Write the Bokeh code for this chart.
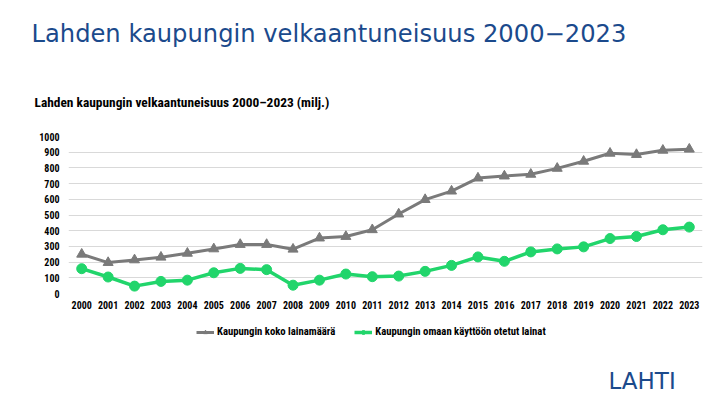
from bokeh.plotting import figure
from bokeh.layouts import column
from bokeh.models import Title, Legend, LegendItem, FixedTicker, Range1d, Label
from bokeh.embed import file_html
from bokeh.resources import INLINE

years = list(range(2000, 2024))
total_loans = [250, 197, 214, 231, 256, 284, 312, 312, 282, 353, 363, 406,
               506, 598, 652, 735, 748, 759, 797, 842, 893, 885, 912, 919]
own_loans = [158, 105, 47, 77, 85, 132, 160, 152, 53, 85, 124, 107,
             111, 141, 179, 233, 205, 265, 284, 297, 350, 363, 406, 423]
y_ticks = [0, 100, 200, 300, 400, 500, 600, 700, 800, 900, 1000]

header = "Lahden kaupungin velkaantuneisuus 2000\u22122023"
chart_title = "Lahden kaupungin velkaantuneisuus 2000\u20132023 (milj.)"
name_total = "Kaupungin koko lainamäärä"
name_own = "Kaupungin omaan käyttöön otetut lainat"
logo_text = "LAHTI"

GRAY = "#7a7a7a"
GREEN = "#21d56b"
BLUE = "#1b4a8c"
NARROW = "Liberation Sans Narrow, Roboto Condensed, Arial Narrow, sans-serif"

# ---- main chart ----
p = figure(width=712, height=318, output_backend="svg", toolbar_location=None,
           x_range=Range1d(1999.5, 2023.5), y_range=Range1d(0, 1000),
           min_border_left=68, min_border_right=10, min_border_top=136,
           min_border_bottom=25)
p.outline_line_color = None
p.background_fill_color = "white"
p.border_fill_color = "white"

p.xaxis.ticker = FixedTicker(ticks=years)
p.yaxis.ticker = FixedTicker(ticks=y_ticks)
for ax in (p.xaxis[0], p.yaxis[0]):
    ax.axis_line_color = None
    ax.major_tick_line_color = None
    ax.minor_tick_line_color = None
    ax.major_label_text_font = NARROW
    ax.major_label_text_font_style = "bold"
    ax.major_label_text_font_size = "10px"
    ax.major_label_text_color = "#000000"
p.xaxis.major_label_standoff = 1
p.yaxis.major_label_standoff = 3
p.xgrid.grid_line_color = None
p.ygrid.grid_line_color = "#d9d9d9"
p.ygrid.grid_line_width = 1

p.line(years, total_loans, line_color=GRAY, line_width=3)
p.scatter(years, total_loans, marker="triangle", size=10,
          fill_color=GRAY, line_color=GRAY)
p.line(years, own_loans, line_color=GREEN, line_width=3.5)
p.scatter(years, own_loans, marker="circle", size=10,
          fill_color=GREEN, line_color=GREEN)

p.add_layout(Title(text=chart_title, text_font=NARROW, text_font_style="bold",
                   text_font_size="13.4px", text_color="#000000",
                   align="left", offset=-34, standoff=54), "above")
p.add_layout(Title(text=header, text_font="DejaVu Sans",
                   text_font_style="normal",
                   text_font_size="24.2px", text_color=BLUE,
                   align="left", offset=-37, standoff=35), "above")

# ---- legend + logo strip ----
q = figure(width=712, height=80, output_backend="svg", toolbar_location=None,
           x_range=Range1d(0, 1), y_range=Range1d(0, 1),
           x_axis_location=None, y_axis_location=None,
           min_border=0, min_border_left=0, min_border_right=0,
           min_border_top=0, min_border_bottom=0)
q.outline_line_color = None
q.xgrid.grid_line_color = None
q.ygrid.grid_line_color = None
q.background_fill_color = "white"
q.border_fill_color = "white"

# same series, outside this strip's ranges: only their legend samples show
ql1 = q.line(years, total_loans, line_color=GRAY, line_width=3)
qm1 = q.scatter(years, total_loans, marker="triangle", size=7,
                fill_color=GRAY, line_color=GRAY)
ql2 = q.line(years, own_loans, line_color=GREEN, line_width=3.5)
qm2 = q.scatter(years, own_loans, marker="circle", size=7,
                fill_color=GREEN, line_color=GREEN)

legend = Legend(items=[LegendItem(label=name_total, renderers=[ql1, qm1]),
                       LegendItem(label=name_own, renderers=[ql2, qm2])],
                orientation="horizontal", location=(128, 60),
                label_text_font=NARROW, label_text_font_style="bold",
                label_text_font_size="10.7px", label_text_color="#000000",
                glyph_width=18, glyph_height=10, spacing=19,
                label_standoff=3, padding=0, margin=0,
                border_line_color=None, background_fill_alpha=0)
q.add_layout(legend, "center")

q.add_layout(Label(x=540, y=18, x_units="screen", y_units="screen",
                   text=logo_text, text_font="DejaVu Sans",
                   text_baseline="alphabetic",
                   text_font_size="23px", text_color=BLUE))

layout = column(p, q, spacing=0)
open("out.html", "w").write(file_html(layout, INLINE))
